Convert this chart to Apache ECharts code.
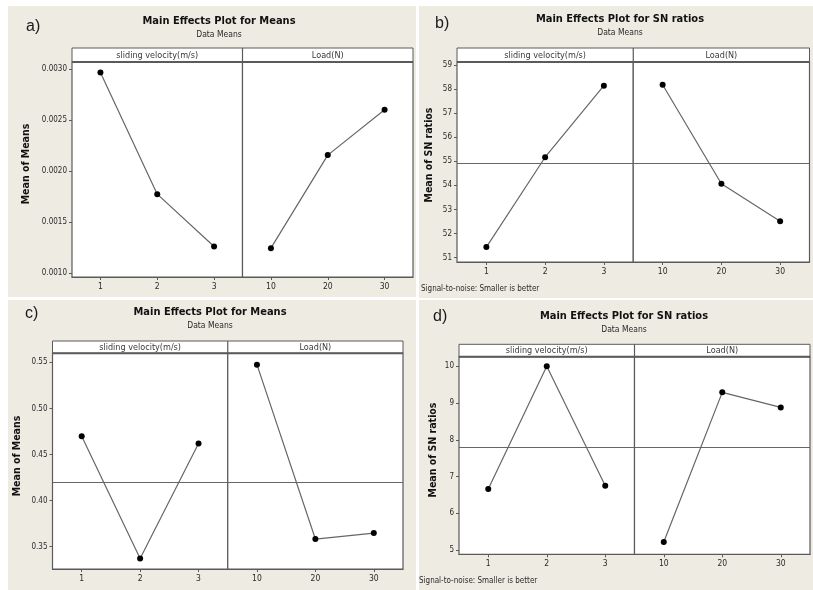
<!DOCTYPE html>
<html>
<head>
<meta charset="utf-8">
<script src="https://cdn.jsdelivr.net/npm/echarts@6/dist/echarts.min.js"></script>
<style>
html,body{margin:0;padding:0;background:#fff;}
#chart{width:813px;height:590px;}
</style>
</head>
<body>
<div id="chart"></div>
<script>
// ---------- data ----------
const velocityLevels = ['1', '2', '3'];
const loadLevels = ['10', '20', '30'];

const aVelocity = [0.00297, 0.001776, 0.001263];
const aLoad = [0.001247, 0.002159, 0.002604];
const aTicks = [0.0010, 0.0015, 0.0020, 0.0025, 0.0030];

const bVelocity = [51.44, 55.17, 58.14];
const bLoad = [58.18, 54.07, 52.51];
const bTicks = [51, 52, 53, 54, 55, 56, 57, 58, 59];

const cVelocity = [0.4699, 0.3373, 0.4619];
const cLoad = [0.5475, 0.3583, 0.3648];
const cTicks = [0.35, 0.40, 0.45, 0.50, 0.55];

const dVelocity = [6.66, 10.0, 6.75];
const dLoad = [5.22, 9.29, 8.88];
const dTicks = [5, 6, 7, 8, 9, 10];

const stripNames = ['sliding velocity(m/s)', 'Load(N)'];
const panelLabels = ['a)', 'b)', 'c)', 'd)'];
const titles = ['Main Effects Plot for Means', 'Main Effects Plot for SN ratios',
                'Main Effects Plot for Means', 'Main Effects Plot for SN ratios'];
const subtitle = 'Data Means';
const yNames = ['Mean of Means', 'Mean of SN ratios', 'Mean of Means', 'Mean of SN ratios'];
const footnote = 'Signal-to-noise: Smaller is better';

// ---------- layout (positions / styles only) ----------
const FONT = '"DejaVu Sans Condensed", "DejaVu Sans", sans-serif';
const layout = [
  {bg:[8,6,408,291], l:72, t:48, r:413, s:62, b:277, tx:219, ty:21, sy:34.5, lx:26, ly:27, nx:26, ny:164,
   min:0.000964, max:0.003072, dec:4, foot:null},
  {bg:[419,6,394,292], l:457, t:48, r:809.5, s:62, b:262, tx:620, ty:19.5, sy:32.5, lx:435, ly:24, nx:429, ny:155,
   min:50.82, max:59.125, dec:0, foot:[421,288.5]},
  {bg:[8,300,408,290], l:52.5, t:341, r:403, s:353.3, b:569, tx:210, ty:311.7, sy:326, lx:25, ly:313.5, nx:17, ny:456,
   min:0.3258, max:0.5598, dec:2, foot:null},
  {bg:[419,300,394,290], l:459, t:344.3, r:810, s:356.7, b:554.3, tx:624, ty:315.7, sy:329.3, lx:433, ly:316.5, nx:433.5, ny:450,
   min:4.883, max:10.26, dec:0, foot:[419,581]}
];
const panelData = [
  {v:aVelocity, L:aLoad, ticks:aTicks},
  {v:bVelocity, L:bLoad, ticks:bTicks},
  {v:cVelocity, L:cLoad, ticks:cTicks},
  {v:dVelocity, L:dLoad, ticks:dTicks}
];

const FRAME = '#5a5a5a';
const LINE = '#666666';
const TXT = '#2a2a2a';
const grids = [], xAxes = [], yAxes = [], series = [], graphics = [];

layout.forEach((p, i) => {
  const d = panelData[i];
  const all = d.v.concat(d.L);
  const mean = all.reduce((s, x) => s + x, 0) / all.length;
  const half = (p.r - p.l) / 2;
  const mid = p.l + half;

  // beige panel background
  graphics.push({type:'rect', z:-10, shape:{x:p.bg[0], y:p.bg[1], width:p.bg[2], height:p.bg[3]},
    style:{fill:'#eeebe3'}});
  // strip header
  graphics.push({type:'rect', z:10, shape:{x:p.l, y:p.t, width:p.r - p.l, height:p.s - p.t},
    style:{fill:'#fff', stroke:FRAME, lineWidth:1}});
  graphics.push({type:'line', z:10, shape:{x1:mid, y1:p.t, x2:mid, y2:p.s}, style:{stroke:FRAME, lineWidth:1.2}});
  graphics.push({type:'line', z:10, shape:{x1:p.l, y1:p.s, x2:p.r, y2:p.s}, style:{stroke:FRAME, lineWidth:2}});
  [0, 1].forEach(k => {
    graphics.push({type:'text', z:11, style:{text:stripNames[k], x:p.l + half * k + half / 2, y:(p.t + p.s) / 2 + 0.5,
      fill:'#3a3a3a', font:'9px ' + FONT, textAlign:'center', textVerticalAlign:'middle', align:'center', verticalAlign:'middle'}});
  });
  // titles
  graphics.push({type:'text', z:11, style:{text:titles[i], x:p.tx, y:p.ty, fill:'#111',
    font:'bold 11px ' + FONT, textAlign:'center', textVerticalAlign:'middle', align:'center', verticalAlign:'middle'}});
  graphics.push({type:'text', z:11, style:{text:subtitle, x:p.tx, y:p.sy, fill:TXT,
    font:'8.5px ' + FONT, textAlign:'center', textVerticalAlign:'middle', align:'center', verticalAlign:'middle'}});
  // panel letter
  graphics.push({type:'text', z:11, style:{text:panelLabels[i], x:p.lx, y:p.ly, fill:'#1a1a1a',
    font:'16px "Liberation Sans", Arial, sans-serif', textAlign:'left', textVerticalAlign:'middle', align:'left', verticalAlign:'middle'}});
  // y-axis name (rotated)
  graphics.push({type:'text', z:11, x:p.nx, y:p.ny, rotation:Math.PI / 2,
    style:{text:yNames[i], x:0, y:0, fill:'#111', font:'bold 10.5px ' + FONT,
      textAlign:'center', textVerticalAlign:'middle', align:'center', verticalAlign:'middle'}});
  if (p.foot) {
    graphics.push({type:'text', z:11, style:{text:footnote, x:p.foot[0], y:p.foot[1], fill:TXT,
      font:'8px ' + FONT, textAlign:'left', textVerticalAlign:'middle', align:'left', verticalAlign:'middle'}});
  }

  [0, 1].forEach(k => {
    const gi = grids.length;
    grids.push({left:p.l + half * k, top:p.s, width:half, height:p.b - p.s,
      show:true, backgroundColor:'#fff', borderColor:FRAME, borderWidth:1.2, containLabel:false});
    xAxes.push({gridIndex:gi, type:'category', data:k === 0 ? velocityLevels : loadLevels, boundaryGap:true,
      axisLine:{show:true, lineStyle:{color:FRAME, width:1.2}},
      axisTick:{show:true, alignWithLabel:true, length:3, lineStyle:{color:FRAME}},
      axisLabel:{color:TXT, fontSize:8.5, fontFamily:FONT, margin:5},
      splitLine:{show:false}});
    yAxes.push({gridIndex:gi, type:'value', min:p.min, max:p.max, show:k === 0,
      axisLine:{show:false},
      axisTick:{show:true, length:3, customValues:d.ticks, lineStyle:{color:FRAME}},
      axisLabel:{show:true, customValues:d.ticks, color:TXT, fontSize:8, fontFamily:FONT, margin:5,
        formatter:v => Number(v).toFixed(p.dec)},
      splitLine:{show:false}});
    series.push({type:'line', xAxisIndex:gi, yAxisIndex:gi, data:k === 0 ? d.v : d.L,
      symbol:'circle', symbolSize:6, itemStyle:{color:'#000'},
      lineStyle:{color:LINE, width:1.2}, animation:false, silent:true,
      markLine:{silent:true, symbol:'none', label:{show:false}, animation:false,
        lineStyle:{color:LINE, width:1, type:'solid'}, data:[{yAxis:mean}]}});
  });
});

const chart = echarts.init(document.getElementById('chart'), null, {renderer:'canvas'});
chart.setOption({
  backgroundColor:'#fff',
  animation:false,
  grid:grids, xAxis:xAxes, yAxis:yAxes, series:series,
  graphic:{elements:graphics}
});
</script>
</body>
</html>
